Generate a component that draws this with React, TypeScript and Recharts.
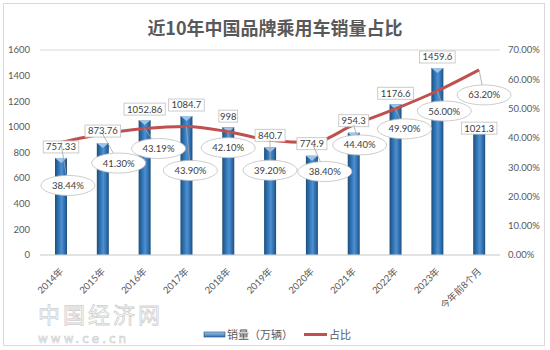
import React from "react";
import { ComposedChart, Bar, Line, XAxis, YAxis, CartesianGrid, LabelList } from "recharts";

const categories = ["2014年", "2015年", "2016年", "2017年", "2018年", "2019年", "2020年", "2021年", "2022年", "2023年", "今年前8个月"];
const sales = [757.33, 873.76, 1052.86, 1084.7, 998, 840.7, 774.9, 954.3, 1176.6, 1459.6, 1021.3];
const share = [38.44, 41.3, 43.19, 43.9, 42.1, 39.2, 38.4, 44.4, 49.9, 56.0, 63.2];
const leftTicks = [0, 200, 400, 600, 800, 1000, 1200, 1400, 1600];
const rightTicks = [0, 10, 20, 30, 40, 50, 60, 70];

// where Excel's labels were dragged to (px, relative to the mark)
const salesLabelDy = [-11, -12, -11, -11, -11, -12, -12, -12, -11, -11, 4];
const shareLabelOffset = [
  [7, 43], [16, 29], [14, 20], [4, 44], [0, 16], [0, 30],
  [13, 29], [6, 20], [9, 20], [7, 20], [5, 25],
];

const data = categories.map((name, i) => ({ name, sales: sales[i], share: share[i] }));

const FONT = "Lato, 'Noto Sans CJK SC', sans-serif";
const TEXT = "#595959";

const BarShape = (props: any) => {
  const { x, y, width, height } = props;
  if (!height) return null;
  return (
    <g>
      <rect x={x} y={y} width={width} height={height} fill="url(#barGrad)" />
      <polygon points={`${x},${y} ${x + width},${y} ${x + width / 2},${y + 5}`} fill="#9DC3E6" />
    </g>
  );
};

const indexOf = (arr: number[], props: any) =>
  typeof props.index === "number" ? props.index : arr.indexOf(Number(props.value));

const SalesLabel = (props: any) => {
  const { x, y, width, value } = props;
  const i = indexOf(sales, props);
  const text = String(value);
  const w = text.length * 5.6 + 2;
  const cx = x + width / 2;
  const cy = y + (salesLabelDy[i] ?? -11);
  return (
    <g>
      <rect x={cx - w / 2} y={cy - 6} width={w} height={12} fill="#fff" stroke="#BFBFBF" strokeWidth={0.8} />
      <text x={cx} y={cy + 3.4} textAnchor="middle" fontSize={9.5} fill="#404040" fontFamily={FONT}>{text}</text>
    </g>
  );
};

const ShareLabel = (props: any) => {
  const { x, y, value } = props;
  const i = indexOf(share, props);
  const [dx, dy] = shareLabelOffset[i] ?? [0, 20];
  const cx = x + dx;
  const cy = y + dy;
  return (
    <g>
      <line x1={x} y1={y} x2={cx} y2={cy} stroke="#A6A6A6" strokeWidth={0.8} />
      <ellipse cx={cx} cy={cy} rx={27} ry={10} fill="#fff" stroke="#BFBFBF" strokeWidth={0.8} />
      <text x={cx} y={cy + 3.5} textAnchor="middle" fontSize={9.5} fill="#404040" fontFamily={FONT}>
        {Number(value).toFixed(2)}%
      </text>
    </g>
  );
};

const XTick = (props: any) => {
  const { x, y, payload } = props;
  return (
    <text
      x={x + 3}
      y={y + 9}
      transform={`rotate(-45 ${x + 3} ${y + 9})`}
      textAnchor="end"
      fontSize={9.5}
      fill={TEXT}
      fontFamily={FONT}
    >
      {payload.value}
    </text>
  );
};

export default function App() {
  return (
    <div style={{ position: "absolute", left: 0, top: 0, width: 550, height: 350, background: "#fff" }}>
      <div
        style={{
          position: "absolute", left: 3, top: 3, width: 542, height: 343,
          border: "1px solid #D9D9D9", boxSizing: "border-box",
        }}
      />
      <div
        style={{
          position: "absolute", left: 0, top: 14, width: 550, textAlign: "center",
          fontFamily: "'Noto Sans CJK SC', sans-serif", fontWeight: 700, fontSize: 18, color: TEXT,
        }}
      >
        近10年中国品牌乘用车销量占比
      </div>
      <div style={{ position: "absolute", left: 0, top: 0 }}>
        <ComposedChart width={550} height={350} data={data} margin={{ top: 50, right: 0, left: 0, bottom: 0 }}>
          <defs>
            <linearGradient id="barGrad" x1="0" y1="0" x2="1" y2="0">
              <stop offset="0" stopColor="#1F4E79" />
              <stop offset="0.3" stopColor="#2E75B6" />
              <stop offset="0.55" stopColor="#4F8FD0" />
              <stop offset="0.8" stopColor="#2E6FB0" />
              <stop offset="1" stopColor="#1F4E79" />
            </linearGradient>
          </defs>
          <CartesianGrid vertical={false} stroke="#D9D9D9" />
          <XAxis dataKey="name" interval={0} height={95} tick={<XTick />} tickLine={false} axisLine={{ stroke: "#D9D9D9" }} />
          <YAxis
            yAxisId="left" orientation="left" width={40} domain={[0, 1600]} ticks={leftTicks}
            axisLine={false} tickLine={false} tickSize={0} tickMargin={10}
            tick={{ fontSize: 9.5, fill: TEXT, fontFamily: FONT }}
          />
          <YAxis
            yAxisId="right" orientation="right" width={50} domain={[0, 70]} ticks={rightTicks}
            axisLine={false} tickLine={false} tickSize={0} tickMargin={8}
            tickFormatter={(v: number) => `${v.toFixed(2)}%`}
            tick={{ fontSize: 9.5, fill: TEXT, fontFamily: FONT, textAnchor: "start" }}
          />
          <Bar yAxisId="left" dataKey="sales" barSize={12} shape={<BarShape />} isAnimationActive={false}>
            <LabelList dataKey="sales" content={<SalesLabel />} />
          </Bar>
          <Line
            yAxisId="right" dataKey="share" type="monotone" stroke="#C0504D" strokeWidth={3}
            dot={false} isAnimationActive={false}
          >
            <LabelList dataKey="share" content={<ShareLabel />} />
          </Line>
        </ComposedChart>
      </div>
      <svg width={550} height={350} style={{ position: "absolute", left: 0, top: 0, pointerEvents: "none" }}>
        <text x={38} y={323} fontSize={22} fill="#fff" stroke="#D0D0D0" strokeWidth={0.8} letterSpacing={3} fontFamily="'Noto Sans CJK SC', serif">
          中国经济网
        </text>
        <text x={38} y={343} fontSize={12} fill="#fff" stroke="#D0D0D0" strokeWidth={0.7} letterSpacing={3} fontFamily="'DejaVu Sans', sans-serif">
          www.ce.cn
        </text>
        <rect x={204} y={332} width={21} height={5} fill="url(#legendGrad)" stroke="#1F4E79" strokeWidth={0.6} />
        <defs>
          <linearGradient id="legendGrad" x1="0" y1="0" x2="0" y2="1">
            <stop offset="0" stopColor="#9DC3E6" />
            <stop offset="1" stopColor="#2E75B6" />
          </linearGradient>
        </defs>
        <text x={227} y={338.5} fontSize={11} fill={TEXT} fontFamily="'Noto Sans CJK SC', sans-serif">销量（万辆）</text>
        <line x1={304} y1={334.5} x2={327} y2={334.5} stroke="#C0504D" strokeWidth={3} />
        <text x={329} y={338.5} fontSize={11} fill={TEXT} fontFamily="'Noto Sans CJK SC', sans-serif">占比</text>
      </svg>
    </div>
  );
}
